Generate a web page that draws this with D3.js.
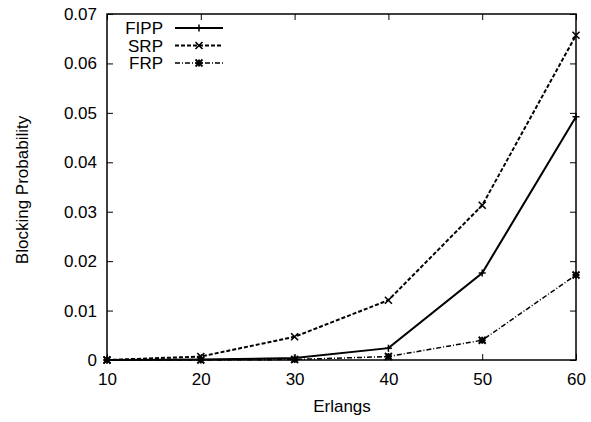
<!DOCTYPE html>
<html><head><meta charset="utf-8">
<script src="https://cdn.jsdelivr.net/npm/d3@7"></script>
<style>body{margin:0;background:#fff}svg text{font-family:"Liberation Sans",Arial,sans-serif;fill:#000}</style>
</head><body><svg id="c" width="591" height="422"></svg>
<script>
const erlangs = [10, 20, 30, 40, 50, 60];
const fipp = [0, 0.0001, 0.0004, 0.0024, 0.0176, 0.0492];
const srp  = [0, 0.0007, 0.0047, 0.0121, 0.0313, 0.0657];
const frp  = [0, 0.0000, 0.0001, 0.0007, 0.0040, 0.0172];
const seriesNames = ["FIPP", "SRP", "FRP"];
const yTicks = [0, 0.01, 0.02, 0.03, 0.04, 0.05, 0.06, 0.07];
const xTicks = [10, 20, 30, 40, 50, 60];

const svg = d3.select("#c");
const L = 107, R = 576, T = 14, B = 360;
const x = d3.scaleLinear().domain([10, 60]).range([L, R]);
const y = d3.scaleLinear().domain([0, 0.07]).range([B, T]);
const fs = 17;

const gx = svg.append("g").attr("transform", `translate(0,${B})`)
  .call(d3.axisBottom(x).tickValues(xTicks).tickFormat(d3.format("d")).tickSizeInner(-6).tickSizeOuter(0).tickPadding(13));
const gxt = svg.append("g").attr("transform", `translate(0,${T})`)
  .call(d3.axisTop(x).tickValues(xTicks).tickFormat("").tickSizeInner(-6).tickSizeOuter(0));
const gy = svg.append("g").attr("transform", `translate(${L},0)`)
  .call(d3.axisLeft(y).tickValues(yTicks).tickFormat(d => d === 0 ? "0" : d3.format(".2f")(d)).tickSizeInner(-6).tickSizeOuter(0).tickPadding(10));
const gyr = svg.append("g").attr("transform", `translate(${R},0)`)
  .call(d3.axisRight(y).tickValues(yTicks).tickFormat("").tickSizeInner(-6).tickSizeOuter(0));
[gx, gxt, gy, gyr].forEach(g => {
  g.attr("font-size", null).attr("font-family", null);
  g.selectAll(".domain").remove();
  g.selectAll("line").attr("stroke", "#000").attr("stroke-width", 1);
  g.selectAll("text").attr("font-size", fs).attr("fill", "#000");
});
svg.append("rect").attr("x", L).attr("y", T).attr("width", R - L).attr("height", B - T)
  .attr("fill", "none").attr("stroke", "#000").attr("stroke-width", 1.5);

svg.append("text").attr("x", 342).attr("y", 412).attr("text-anchor", "middle").attr("font-size", fs).text("Erlangs");
svg.append("text").attr("transform", `translate(28,190) rotate(-90)`).attr("text-anchor", "middle").attr("font-size", fs).text("Blocking Probability");

const dashes = [null, "4,2", "5,2,1,2"];
const widths = [2, 2, 1.5];
const data = [fipp, srp, frp];
const line = d3.line().x((d, i) => x(erlangs[i])).y(d => y(d));

function marker(g, kind, cx, cy) {
  const s = 3.5;
  if (kind === 0) {
    g.append("path").attr("d", `M${cx - s},${cy}H${cx + s}M${cx},${cy - s}V${cy + s}`).attr("stroke", "#000").attr("stroke-width", 1.5);
  } else if (kind === 1) {
    g.append("path").attr("d", `M${cx - s},${cy - s}L${cx + s},${cy + s}M${cx - s},${cy + s}L${cx + s},${cy - s}`).attr("stroke", "#000").attr("stroke-width", 1.6);
  } else {
    g.append("path").attr("d", `M${cx - s},${cy}H${cx + s}M${cx},${cy - s}V${cy + s}M${cx - s},${cy - s}L${cx + s},${cy + s}M${cx - s},${cy + s}L${cx + s},${cy - s}`).attr("stroke", "#000").attr("stroke-width", 1.9);
  }
}

data.forEach((vals, k) => {
  const g = svg.append("g");
  g.append("path").datum(vals).attr("d", line).attr("fill", "none").attr("stroke", "#000")
    .attr("stroke-width", widths[k]).attr("stroke-dasharray", dashes[k]);
  vals.forEach((v, i) => marker(g, k, x(erlangs[i]), y(v)));
  const ly = 28 + k * 17.5;
  svg.append("text").attr("x", 163).attr("y", ly + 6).attr("text-anchor", "end").attr("font-size", fs).text(seriesNames[k]);
  svg.append("line").attr("x1", 175).attr("x2", 223).attr("y1", ly).attr("y2", ly)
    .attr("stroke", "#000").attr("stroke-width", widths[k]).attr("stroke-dasharray", dashes[k]);
  marker(svg, k, 199, ly);
});
</script></body></html>
